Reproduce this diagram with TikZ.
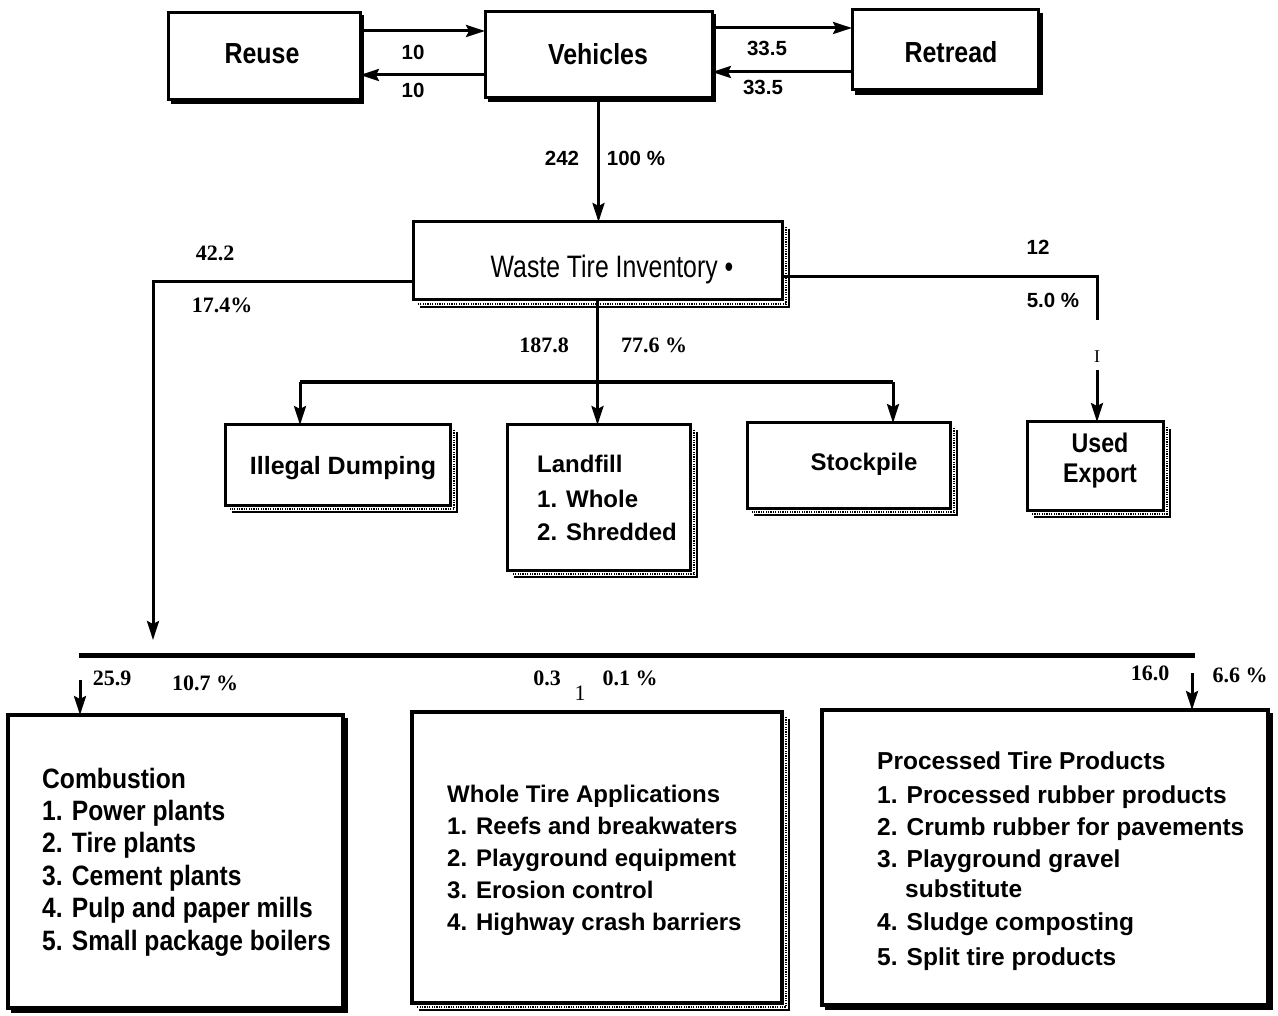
\documentclass[tikz,border=0pt]{standalone}
\usepackage{fontspec}
\setmainfont{Liberation Sans}
\newfontfamily\nbf{Liberation Sans}[FakeStretch=0.86]
\newfontfamily\ncb{Liberation Sans}[FakeStretch=0.88]
\newfontfamily\nrg{Liberation Sans}[FakeStretch=0.8]
\newfontfamily\srf{Liberation Serif}
\usetikzlibrary{arrows.meta,calc}
\newcommand\thickedge[3]{\draw[line width=#3] ([shift={(#2,-#2)}]#1.north east) -- ([shift={(#2,-#2)}]#1.south east) -- ([shift={(#2,-#2)}]#1.south west);}
\newcommand\boxshd[1]{\draw[line width=1.3pt] ([shift={(7pt,-7pt)}]#1.north east) -- ([shift={(7pt,-7pt)}]#1.south east) -- ([shift={(7pt,-7pt)}]#1.south west);
\draw[line width=2pt, dash pattern=on 1.2pt off 1.2pt] ([shift={(4pt,-5pt)}]#1.north east) -- ([shift={(4pt,-4pt)}]#1.south east) -- ([shift={(5pt,-4pt)}]#1.south west);}
\begin{document}
\begin{tikzpicture}[x=1pt,y=-1pt,
 box/.style={draw, line width=3pt, inner sep=0pt, outer sep=0pt, anchor=north west},
 topf/.style={font=\nbf\bfseries\fontsize{29}{32}\selectfont, inner sep=0pt, anchor=base},
 labs/.style={font=\bfseries\fontsize{20.5}{23}\selectfont, inner sep=0pt},
 labr/.style={font=\srf\bfseries\fontsize{22}{24}\selectfont, inner sep=0pt},
 midf/.style={font=\bfseries\fontsize{24}{28}\selectfont, inner sep=0pt, anchor=base west},
 procf/.style={font=\bfseries\fontsize{24.5}{28}\selectfont, inner sep=0pt, anchor=base west},
 combf/.style={font=\ncb\bfseries\fontsize{28}{32}\selectfont, inner sep=0pt, anchor=base west},
 arr/.style={line width=3pt, -{Stealth[length=19pt,width=12pt,inset=3pt]}},
 ln/.style={line width=3pt},
]
\useasboundingbox (0,0) rectangle (1278,1016);
\fill[white] (0,0) rectangle (1278,1016);

% top row
\node[box, minimum width=192pt, minimum height=87pt] (reuse) at (168,13) {};
\node[box, minimum width=227pt, minimum height=86pt] (veh) at (485,12) {};
\node[box, minimum width=186pt, minimum height=80pt] (ret) at (852,10) {};
\thickedge{reuse}{2.5pt}{3pt}
\thickedge{veh}{2.5pt}{2.5pt}
\thickedge{ret}{3pt}{3.5pt}
\node[topf] (treuse) at (262,64) {Reuse};
\node[topf] (tveh) at (598,65) {Vehicles};
\node[topf] (tret) at (951,63) {Retread};

\coordinate (ra) at (360,31);
\coordinate (rb) at (485,75);
\draw[arr] (ra) -- (ra -| veh.west);
\draw[arr] (rb) -- (rb -| reuse.east);
\coordinate (va) at (712,28);
\coordinate (vb) at (852,72);
\draw[arr] (va) -- (va -| ret.west);
\draw[arr] (vb) -- (vb -| veh.east);
\node[labs] (l10a) at (413,52) {10};
\node[labs] (l10b) at (413,90) {10};
\node[labs] (l33a) at (767,48) {33.5};
\node[labs] (l33b) at (763,87) {33.5};

% waste tire inventory
\node[box, minimum width=369pt, minimum height=78pt] (wti) at (413,222) {};
\boxshd{wti}
\node[font=\nrg\fontsize{31}{34}\selectfont, inner sep=0pt, anchor=base] (twti) at (612,278) {Waste Tire Inventory \textbullet};
\draw[arr] (veh.south) -- (veh.south |- wti.north);
\node[labs] (l242) at (562,158) {242};
\node[labs] (l100) at (636,158) {100 \%};

% left branch
\coordinate (cl) at (153,640);
\draw[arr] ([yshift=-21pt]wti.west) -| (cl);
\node[labr] (l422) at (215,253) {42.2};
\node[labr] (l174) at (222,305) {17.4\%};

% right branch
\coordinate (er) at (1097,320);
\coordinate (es) at (1097,370);
\draw[ln] ([yshift=-16pt]wti.east) -| (er);
\node[labs] (l12) at (1038,247) {12};
\node[labs] (l50) at (1053,300) {5.0 \%};
\node[font=\srf\fontsize{18}{20}\selectfont, inner sep=0pt] (lI) at (1097,357) {I};

% second row boxes
\node[box, minimum width=225pt, minimum height=80pt] (il) at (225,425) {};
\node[box, minimum width=183pt, minimum height=145pt] (lf) at (507,425) {};
\node[box, minimum width=203pt, minimum height=85pt] (sp) at (747,423) {};
\node[box, minimum width=136pt, minimum height=88pt] (ue) at (1027,422) {};
\boxshd{il}
\boxshd{lf}
\boxshd{sp}
\boxshd{ue}
\node[font=\bfseries\fontsize{25}{28}\selectfont, inner sep=0pt, anchor=base] (til) at (343,474) {Illegal Dumping};
\node[midf] (tl1) at (537,472) {Landfill};
\node[midf] (tl2) at (537,507) {1. Whole};
\node[midf] (tl3) at (537,540) {2. Shredded};
\node[font=\bfseries\fontsize{24}{28}\selectfont, inner sep=0pt, anchor=base] (tsp) at (864,471) {Stockpile};
\node[font=\nbf\bfseries\fontsize{27}{30}\selectfont, inner sep=0pt, anchor=base] (tue1) at (1100,453) {Used};
\node[font=\nbf\bfseries\fontsize{27}{30}\selectfont, inner sep=0pt, anchor=base] (tue2) at (1100,482) {Export};

\draw[arr] (es) -- (es |- ue.north);
\draw[arr] (wti.south) -- (wti.south |- lf.north);
\node[labr] (l1878) at (544,345) {187.8};
\node[labr] (l776) at (654,345) {77.6 \%};

\coordinate (dl) at (300,382);
\coordinate (dr) at (893,382);
\draw[ln, line width=3.5pt] (dl) -- (dr);
\draw[arr] (dl) -- (dl |- il.north);
\draw[arr] (dr) -- (dr |- sp.north);

% bottom distribution line
\coordinate (bl) at (79,655);
\coordinate (br) at (1195,655);
\draw[line width=5pt] (bl) -- (br);

% bottom boxes
\node[box, line width=4pt, minimum width=335pt, minimum height=293pt] (cb) at (8,715) {};
\node[box, line width=3.5pt, minimum width=370pt, minimum height=291pt] (wt) at (412,712) {};
\node[box, line width=4pt, minimum width=446pt, minimum height=295pt] (pt) at (822,710) {};
\thickedge{cb}{3pt}{4pt}
\thickedge{pt}{3pt}{4pt}
\boxshd{wt}

\coordinate (ca) at (80,680);
\coordinate (pa) at (1192,673);
\draw[arr] (ca) -- (ca |- cb.north);
\draw[arr] (pa) -- (pa |- pt.north);
\node[labr] (l259) at (112,678) {25.9};
\node[labr] (l107) at (205,683) {10.7 \%};
\node[labr] (l03) at (547,678) {0.3};
\node[font=\srf\fontsize{22}{24}\selectfont, inner sep=0pt] (l1) at (580,693) {1};
\node[labr] (l01) at (630,678) {0.1 \%};
\node[labr] (l160) at (1150,673) {16.0};
\node[labr] (l66) at (1240,675) {6.6 \%};

\node[combf] (c0) at (42,788) {Combustion};
\node[combf] (c1) at (42,820.4) {1. Power plants};
\node[combf] (c2) at (42,852.8) {2. Tire plants};
\node[combf] (c3) at (42,885.2) {3. Cement plants};
\node[combf] (c4) at (42,917.6) {4. Pulp and paper mills};
\node[combf] (c5) at (42,950) {5. Small package boilers};

\node[midf] (w0) at (447,802) {Whole Tire Applications};
\node[midf] (w1) at (447,834) {1. Reefs and breakwaters};
\node[midf] (w2) at (447,866) {2. Playground equipment};
\node[midf] (w3) at (447,898) {3. Erosion control};
\node[midf] (w4) at (447,930) {4. Highway crash barriers};

\node[procf] (p0) at (877,769) {Processed Tire Products};
\node[procf] (p1) at (877,803) {1. Processed rubber products};
\node[procf] (p2) at (877,835) {2. Crumb rubber for pavements};
\node[procf] (p3) at (877,867) {3. Playground gravel};
\node[procf] (p3b) at (905,897) {substitute};
\node[procf] (p4) at (877,930) {4. Sludge composting};
\node[procf] (p5) at (877,965) {5. Split tire products};
\end{tikzpicture}
\end{document}
